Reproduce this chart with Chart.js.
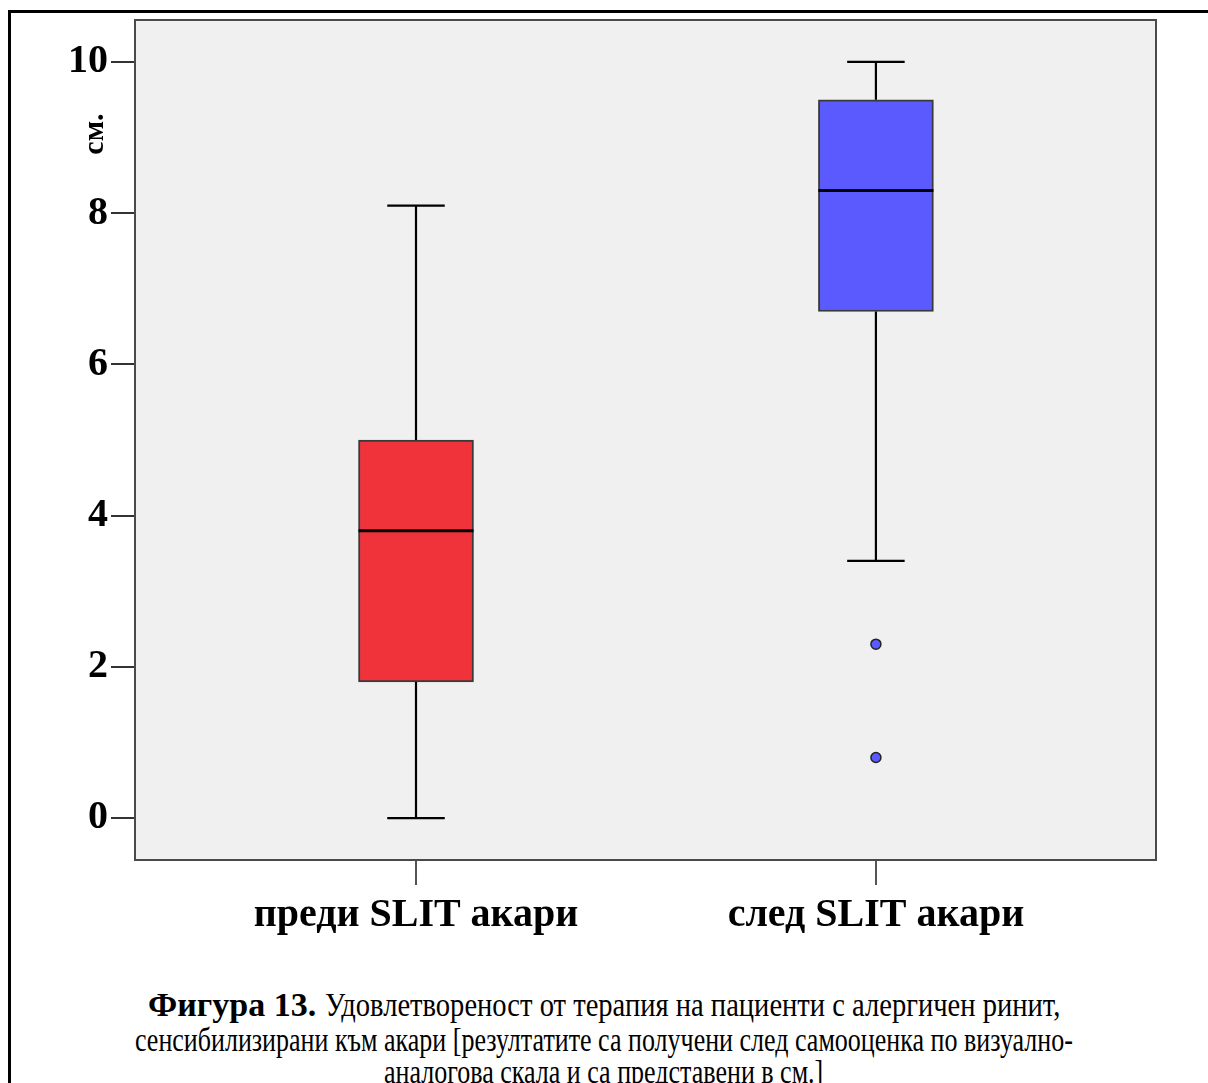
<!DOCTYPE html>
<html lang="bg">
<head>
  <meta charset="UTF-8" />
  <title>Фигура 13</title>
  <script src="https://cdn.jsdelivr.net/npm/chart.js"></script>
  <style>
    html, body {
      margin: 0;
      padding: 0;
      background: #fff;
      overflow: hidden;
      width: 1208px;
      height: 1083px;
    }
    #frame {
      position: absolute;
      left: 8px;
      top: 10px;
      width: 1400px;
      height: 1200px;
      border-left: 3px solid #000;
      border-top: 3px solid #000;
    }
    #grafico {
      position: absolute;
      left: 0;
      top: 0;
    }
    .caption {
      position: absolute;
      left: 0;
      width: 1208px;
      text-align: center;
      font-family: "Liberation Serif", "Times New Roman", serif;
      font-size: 34px;
      line-height: 34px;
      color: #000;
      white-space: nowrap;
    }
    .cond {
      display: inline-block;
      transform-origin: left center;
    }
  </style>
</head>
<body>
<div id="frame"></div>
<canvas id="grafico" width="1208" height="940"></canvas>

<div class="caption" style="top: 988px;"><b>Фигура 13.</b> <span class="cond" data-s="0.84">Удовлетвореност от терапия на пациенти с алергичен ринит,</span></div>
<div class="caption" style="top: 1023px;"><span class="cond" data-s="0.765">сенсибилизирани към акари [резултатите са получени след самооценка по визуално-</span></div>
<div class="caption" style="top: 1055px;"><span class="cond" data-s="0.765">аналогова скала и са представени в см.]</span></div>

<script>
  // Данни за диаграмата (cm по ВАС)
  const categories = ['преди SLIT акари', 'след SLIT акари'];
  const whiskerLow = [0, 3.4];
  const q1 = [1.8, 6.7];
  const median = [3.8, 8.3];
  const q3 = [5.0, 9.5];
  const whiskerHigh = [8.1, 10];
  const outliers = [[], [2.3, 0.8]];
  const yTicks = [0, 2, 4, 6, 8, 10];

  const boxColors = ['#f0323a', '#5a5aff'];

  // по-тесен шрифт за текста под фигурата
  document.querySelectorAll('.cond').forEach(el => {
    const s = parseFloat(el.dataset.s);
    const w = el.getBoundingClientRect().width;
    el.style.transform = 'scaleX(' + s + ')';
    el.style.marginRight = (-w * (1 - s)) + 'px';
  });

  // Кутии като "плаващи" стълбове от Q1 до Q3
  const boxData = categories.map((c, i) => ({ x: i, y: [q1[i], q3[i]] }));
  const outlierData = [];
  outliers.forEach((list, i) => list.forEach(v => outlierData.push({ x: i, y: v })));

  const fontSerif = '"Liberation Serif", "Times New Roman", serif';

  // Фон на графичната област, мустаци, медиани и рамка
  const boxPlotPlugin = {
    id: 'boxPlot',
    beforeDraw(chart) {
      const { ctx, chartArea: a } = chart;
      ctx.save();
      ctx.fillStyle = '#f0f0f0';
      ctx.fillRect(a.left, a.top, a.right - a.left, a.bottom - a.top);
      ctx.restore();
    },
    afterDatasetsDraw(chart) {
      const { ctx, scales } = chart;
      const x = scales.x, y = scales.y;
      const meta = chart.getDatasetMeta(0);
      ctx.save();
      categories.forEach((c, i) => {
        const cx = x.getPixelForValue(i);
        const half = meta.data[i].width / 2;
        const capHalf = half / 2;
        ctx.strokeStyle = '#000';
        ctx.lineWidth = 2.2;
        ctx.beginPath();
        // горен мустак
        ctx.moveTo(cx, y.getPixelForValue(q3[i]));
        ctx.lineTo(cx, y.getPixelForValue(whiskerHigh[i]));
        ctx.moveTo(cx - capHalf, y.getPixelForValue(whiskerHigh[i]));
        ctx.lineTo(cx + capHalf, y.getPixelForValue(whiskerHigh[i]));
        // долен мустак
        ctx.moveTo(cx, y.getPixelForValue(q1[i]));
        ctx.lineTo(cx, y.getPixelForValue(whiskerLow[i]));
        ctx.moveTo(cx - capHalf, y.getPixelForValue(whiskerLow[i]));
        ctx.lineTo(cx + capHalf, y.getPixelForValue(whiskerLow[i]));
        ctx.stroke();
        // медиана
        ctx.lineWidth = 3;
        ctx.beginPath();
        ctx.moveTo(cx - half, y.getPixelForValue(median[i]));
        ctx.lineTo(cx + half, y.getPixelForValue(median[i]));
        ctx.stroke();
      });
      ctx.restore();
    },
    afterDraw(chart) {
      const { ctx, chartArea: a } = chart;
      ctx.save();
      ctx.strokeStyle = '#4a4a4a';
      ctx.lineWidth = 2;
      ctx.strokeRect(a.left, a.top, a.right - a.left, a.bottom - a.top);
      // заглавие на оста Y
      ctx.translate(95, 134);
      ctx.rotate(-Math.PI / 2);
      ctx.fillStyle = '#000';
      ctx.font = 'bold 30px ' + fontSerif;
      ctx.textAlign = 'center';
      ctx.textBaseline = 'middle';
      ctx.fillText('см.', 0, 0);
      ctx.restore();
    }
  };

  new Chart(document.getElementById('grafico'), {
    type: 'bar',
    data: {
      datasets: [
        {
          type: 'bar',
          data: boxData,
          backgroundColor: boxColors,
          borderColor: '#3a3a3a',
          borderWidth: 2,
          borderSkipped: false,
          barThickness: 115
        },
        {
          type: 'scatter',
          data: outlierData,
          backgroundColor: boxColors[1],
          borderColor: '#222',
          borderWidth: 1.5,
          pointRadius: 5
        }
      ]
    },
    options: {
      responsive: false,
      devicePixelRatio: 1,
      animation: false,
      layout: { padding: { top: 20, right: 52, left: 0, bottom: 0 } },
      plugins: {
        legend: { display: false },
        tooltip: { enabled: false }
      },
      scales: {
        x: {
          type: 'linear',
          min: -0.611,
          max: 1.609,
          offset: false,
          afterBuildTicks: s => { s.ticks = categories.map((c, i) => ({ value: i })); },
          afterFit: s => { s.height = 80; s.paddingLeft = 0; s.paddingRight = 0; },
          border: { display: false },
          grid: { offset: false, drawOnChartArea: false, drawTicks: true, tickLength: 25, color: '#555', lineWidth: 2 },
          ticks: {
            callback: v => categories[v],
            color: '#000',
            padding: 7,
            maxRotation: 0,
            font: { family: fontSerif, size: 40, weight: 'bold' }
          }
        },
        y: {
          min: -0.555,
          max: 10.555,
          afterBuildTicks: s => { s.ticks = yTicks.map(v => ({ value: v })); },
          afterFit: s => { s.width = 135; s.paddingTop = 0; s.paddingBottom = 0; },
          border: { display: false },
          grid: { drawOnChartArea: false, drawTicks: true, tickLength: 24, color: '#333', lineWidth: 2 },
          ticks: {
            color: '#000',
            padding: 3,
            font: { family: fontSerif, size: 40, weight: 'bold' }
          }
        }
      }
    },
    plugins: [boxPlotPlugin]
  });
</script>
</body>
</html>
